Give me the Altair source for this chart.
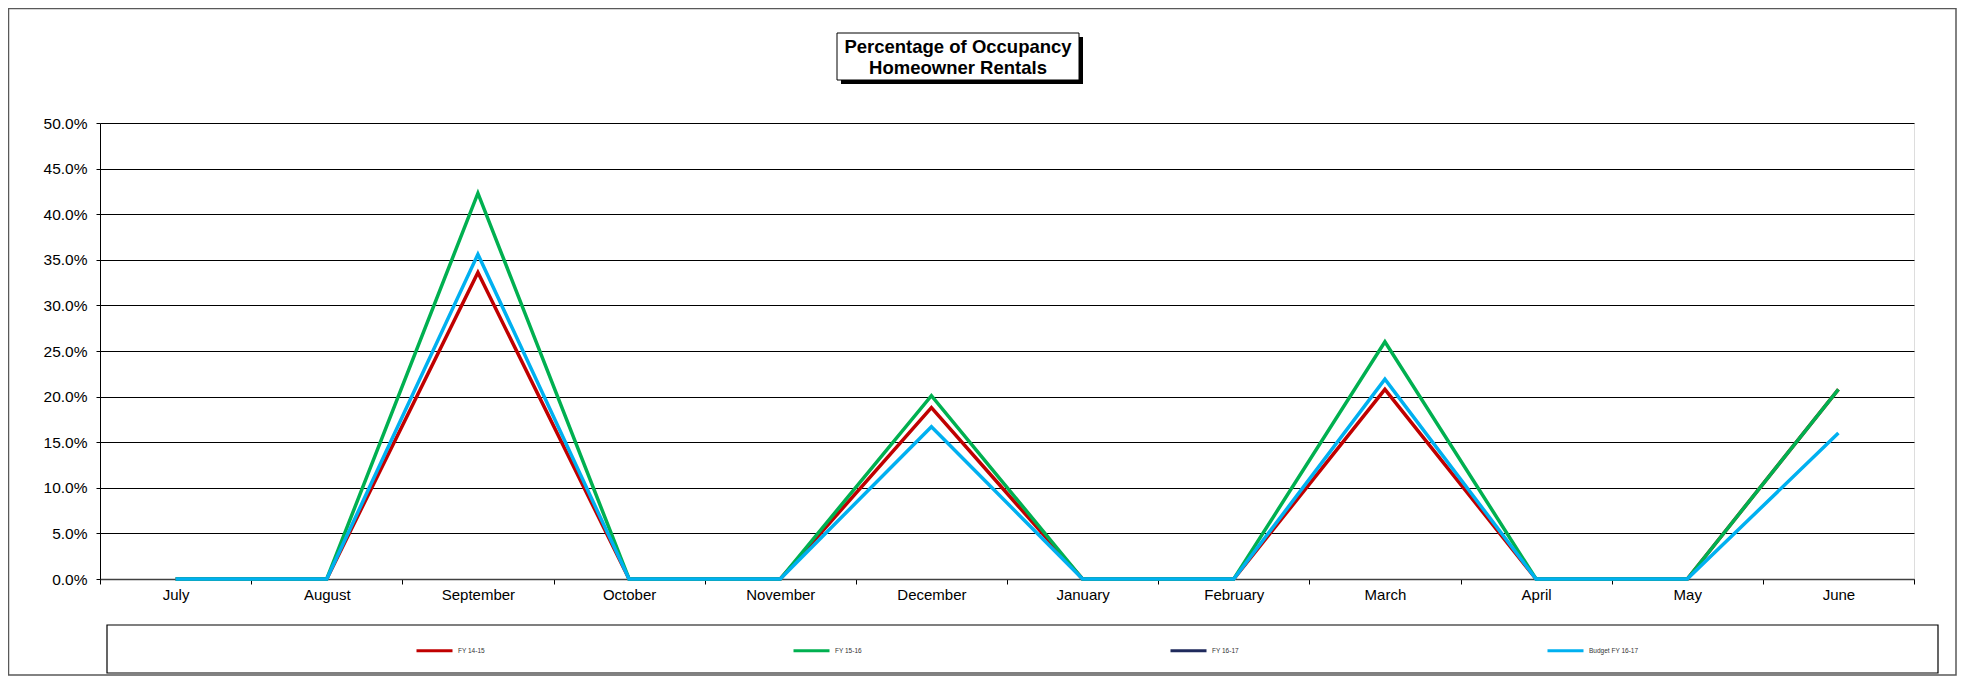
import altair as alt
import pandas as pd

# ---- data ----
months = ["July", "August", "September", "October", "November", "December",
          "January", "February", "March", "April", "May", "June"]
series_names = ["FY 14-15", "FY 15-16", "FY 16-17", "Budget FY 16-17"]
series_colors = ["#C00000", "#00B050", "#1F2A5C", "#00B0F0"]
fy_14_15 = [0.0, 0.0, 0.336, 0.0, 0.0, 0.188, 0.0, 0.0, 0.208, 0.0, 0.0, 0.208]
fy_15_16 = [0.0, 0.0, 0.423, 0.0, 0.0, 0.201, 0.0, 0.0, 0.260, 0.0, 0.0, 0.208]
fy_16_17 = []  # no values plotted
budget_16_17 = [0.0, 0.0, 0.356, 0.0, 0.0, 0.167, 0.0, 0.0, 0.219, 0.0, 0.0, 0.160]
y_ticks = [0.0, 0.05, 0.10, 0.15, 0.20, 0.25, 0.30, 0.35, 0.40, 0.45, 0.50]
title_lines = ["Percentage of Occupancy", "Homeowner Rentals"]

series_values = {"FY 14-15": fy_14_15, "FY 15-16": fy_15_16,
                 "FY 16-17": fy_16_17, "Budget FY 16-17": budget_16_17}
rows = []
for name in series_names:
    for m, v in zip(months, series_values[name]):
        rows.append({"month": m, "series": name, "value": v})
df = pd.DataFrame(rows, columns=["month", "series", "value"])

FONT = "Liberation Sans"
W, H = 1814, 456

color_enc = alt.Color(
    "series:N",
    scale=alt.Scale(domain=series_names, range=series_colors),
    legend=alt.Legend(
        title=None, orient="none", legendX=315, legendY=508,
        direction="horizontal", columns=4, columnPadding=279,
        gridAlign="all", symbolType="stroke", symbolSize=1296,
        symbolStrokeWidth=3, labelFontSize=6.5, labelColor="#333333",
        labelOffset=4, padding=0, labelFont=FONT,
    ),
)
x_enc = alt.X(
    "month:N", sort=months,
    scale=alt.Scale(type="band", domain=months, paddingInner=0, paddingOuter=0),
    bandPosition=0.5,
    axis=alt.Axis(title=None, labelAngle=0, tickBand="extent", tickSize=5,
                  labelPadding=3, domainColor="#404040", domainWidth=1.5,
                  tickColor="#000000", labelFontSize=15, labelColor="#000000",
                  labelFont=FONT, grid=False),
)
y_enc = alt.Y(
    "value:Q",
    scale=alt.Scale(domain=[0, 0.5], nice=False, zero=True),
    axis=alt.Axis(title=None, values=y_ticks, format=".1%", grid=True,
                  gridColor="#000000", gridWidth=1, tickSize=4, labelPadding=9,
                  tickColor="#000000", domainColor="#000000", domainWidth=1,
                  labelFontSize=15.5, labelColor="#000000", labelFont=FONT),
)

line_layers = []
for name in series_names:
    line_layers.append(
        alt.Chart(df).transform_filter(alt.datum.series == name)
        .mark_line(strokeWidth=3.5)
        .encode(x=x_enc, y=y_enc, color=color_enc)
    )

one = alt.Data(values=[{"k": 1}])

outer_box = alt.Chart(one).mark_rect(fill="white", fillOpacity=0, stroke="#595959", strokeWidth=1.5).encode(
    x=alt.value(-91.5), x2=alt.value(1856), y=alt.value(-114.5), y2=alt.value(552))
legend_box = alt.Chart(one).mark_rect(fill="white", fillOpacity=0, stroke="#000000", strokeWidth=1.2).encode(
    x=alt.value(7), x2=alt.value(1838), y=alt.value(502), y2=alt.value(550))
title_shadow = alt.Chart(one).mark_rect(fill="#000000").encode(
    x=alt.value(741), x2=alt.value(983), y=alt.value(-86), y2=alt.value(-39))
title_box = alt.Chart(one).mark_rect(fill="white", stroke="#000000", strokeWidth=1).encode(
    x=alt.value(737), x2=alt.value(979), y=alt.value(-90), y2=alt.value(-43))
title_text = alt.Chart(one).mark_text(
    font=FONT, fontSize=18.5, fontWeight="bold", color="#000000",
    align="center", baseline="alphabetic", lineBreak="\n", lineHeight=20.7,
).encode(x=alt.value(858), y=alt.value(-69.7), text=alt.value("\n".join(title_lines)))

chart = alt.layer(
    outer_box, legend_box, title_shadow, title_box, title_text, *line_layers
).properties(
    width=W, height=H,
    autosize=alt.AutoSizeParams(type="none"),
    padding={"left": 92, "top": 115, "right": 43, "bottom": 98},
).configure_view(strokeWidth=0).configure(font=FONT)

chart.save("out.html", embed_options={"renderer": "svg", "actions": False})
